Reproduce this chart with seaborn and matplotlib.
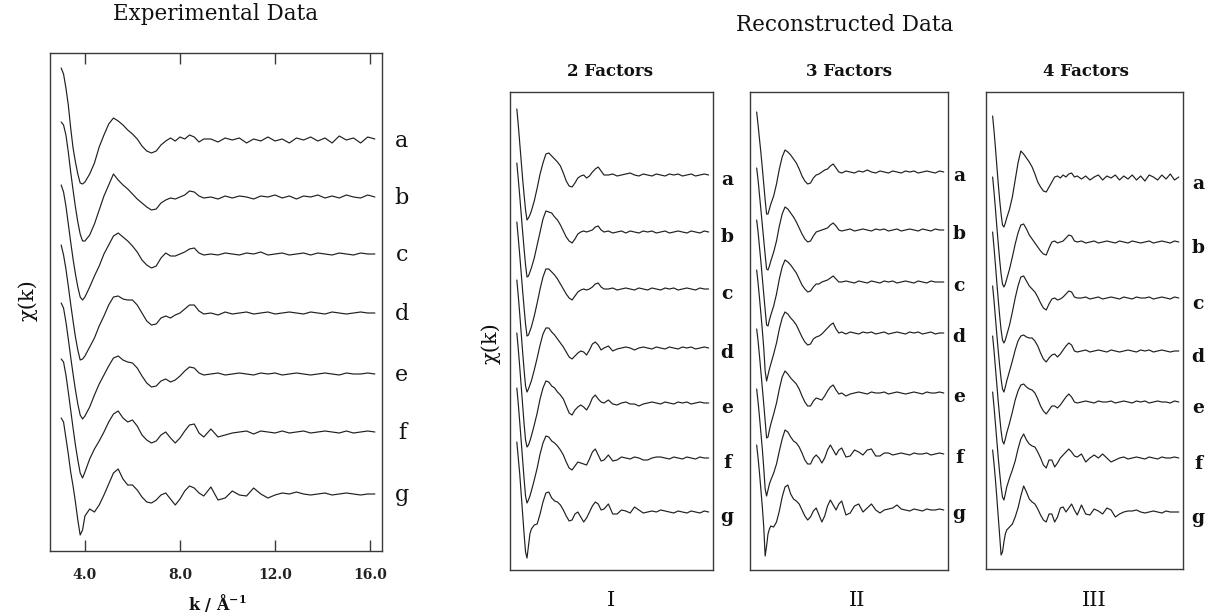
import numpy as np
import pandas as pd
import matplotlib
matplotlib.use("Agg")
import matplotlib.pyplot as plt
import seaborn as sns

# ---------------- data (chi(k), arbitrary units, relative to each trace's baseline) ----------------
k_grid = [3.0, 3.1, 3.2, 3.3, 3.4, 3.5, 3.6, 3.7, 3.8, 3.9, 4.0,
          4.2, 4.4, 4.6, 4.8, 5.0, 5.2, 5.4, 5.6, 5.8, 6.0, 6.2, 6.4, 6.6, 6.8, 7.0,
          7.2, 7.4, 7.6, 7.8, 8.0, 8.2, 8.4, 8.6, 8.8, 9.0,
          9.3, 9.6, 9.9, 10.2, 10.5, 10.8, 11.1, 11.4, 11.7, 12.0, 12.3, 12.6,
          12.9, 13.2, 13.5, 13.8, 14.1, 14.4, 14.7, 15.0, 15.3, 15.6, 15.9, 16.2]

trace_labels = ['a', 'b', 'c', 'd', 'e', 'f', 'g']

# Experimental data
exp_a = [72, 66, 52, 35, 12, -8, -22, -34, -43, -44, -42,
         -34, -23, -7, 5, 16, 22, 19, 15, 10, 6, 1, -6, -11, -13, -11, -5, -1, 2, -1, 3, 1, 5, 3, -2, 1,
         1, -2, 2, 0, 2, -3, 1, -1, 3, -1, 1, -3, 2, 0, 3, -1, 2, -3, 4, 0, 2, -3, 3, 1]
exp_b = [75, 72, 62, 45, 25, 7, -10, -25, -37, -44, -44,
         -38, -27, -13, 1, 12, 23, 17, 12, 8, 3, -2, -6, -10, -13, -12, -6, -3, -1, -2, 0, 2, 6, 5, 1, -1,
         0, -2, 1, -1, 1, 0, -2, 1, 0, 2, -1, 1, -2, 1, 0, 2, -1, 1, -1, 2, 0, -1, 2, 0]
exp_c = [69, 62, 48, 30, 12, -5, -20, -33, -43, -46, -43,
         -33, -22, -12, 0, 9, 18, 21, 17, 13, 8, 2, -6, -11, -14, -12, -4, 1, -2, -2, 0, 2, 5, 6, 1, -1,
         0, -1, 1, 0, -1, 1, 0, 2, -1, 0, 1, -1, 0, 1, -1, 1, 0, -1, 1, 0, -1, 1, 0, 0]
exp_d = [68, 58, 44, 27, 9, -8, -24, -37, -47, -46, -43,
         -34, -25, -13, -3, 8, 16, 17, 14, 13, 13, 8, 0, -8, -12, -11, -5, -3, -5, -2, 0, 4, 8, 8, 2, -1,
         0, -2, 1, -1, 0, 1, -1, 0, 1, -1, 0, 1, 0, -1, 1, 0, -1, 1, 0, -1, 0, 1, 0, 0]
exp_e = [71, 66, 52, 35, 17, 0, -16, -30, -41, -45, -42,
         -33, -21, -10, -1, 8, 16, 18, 14, 12, 11, 6, -2, -9, -13, -12, -7, -5, -8, -6, -2, 3, 7, 6, 1, -1,
         0, 1, -1, 0, 1, 0, -1, 1, 0, 1, -1, 0, 1, 0, -1, 0, 1, 0, -1, 1, 0, 0, 1, 0]
exp_f = [73, 70, 57, 40, 22, 4, -13, -28, -41, -46, -40,
         -27, -17, -9, 0, 10, 18, 21, 14, 10, 12, 6, -3, -8, -11, -9, -3, 0, -6, -11, -6, 1, 7, 8, -1, -5,
         3, -5, -3, -1, 0, 1, -2, 1, 0, -1, 1, -1, 0, 1, -1, 0, 1, 0, -1, 1, -1, 0, 1, 0]
exp_g = [76, 72, 56, 40, 22, 8, -8, -26, -41, -36, -22,
         -15, -18, -11, -1, 10, 21, 25, 15, 9, 9, 4, -3, -8, -9, -6, -1, 1, -5, -11, -5, 3, 8, 6, 1, -2,
         7, -6, -4, 3, -1, -2, 6, 0, -4, -1, 1, 0, 2, 0, -1, 0, 1, -1, 0, 1, 0, -1, 0, 0]

# Reconstructed data, 2 factors
f2_a = [66, 50, 32, 14, -4, -20, -35, -45, -43, -40, -36,
        -26, -13, 1, 12, 21, 22, 19, 16, 13, 9, 2, -6, -11, -12, -8, -3, -1, 0, -3, -1, 3, 6, 8, 4, 0,
        0, 1, -1, 0, 1, 2, 0, -1, 1, 0, -1, 1, 0, -1, 1, 0, 1, -1, 0, 1, -1, 0, 1, 0]
f2_b = [69, 53, 36, 18, 0, -17, -33, -45, -44, -40, -36,
        -26, -13, 0, 13, 21, 20, 19, 15, 12, 7, 1, -5, -9, -11, -7, -2, 0, 1, 0, 1, 2, 5, 6, 2, 0,
        1, -1, 0, 1, -1, 1, 0, -1, 1, 0, 1, -1, 0, 1, -1, 0, 1, 0, -1, 1, 0, -1, 1, 0]
f2_c = [67, 51, 34, 16, -2, -19, -35, -47, -46, -42, -38,
        -27, -14, 0, 12, 20, 20, 17, 14, 10, 5, 0, -5, -9, -11, -7, -3, -1, 0, -1, 0, 2, 5, 6, 2, 0,
        0, 1, -1, 0, 1, 0, -1, 1, 0, -1, 1, 0, -1, 1, 0, 1, -1, 0, 1, 0, -1, 1, 0, 0]
f2_d = [68, 52, 34, 15, -4, -22, -38, -44, -41, -37, -33,
        -22, -10, 3, 14, 20, 20, 16, 13, 9, 5, 1, -4, -9, -11, -8, -5, -3, -4, -7, -2, 4, 6, 3, -2, 0,
        2, -3, -1, 0, 1, 0, -2, 0, 1, 0, -1, 1, 0, -1, 1, 0, -1, 1, 0, 1, -1, 0, 1, 0]
f2_e = [70, 54, 36, 17, -2, -21, -37, -44, -42, -38, -33,
        -22, -10, 4, 15, 22, 21, 17, 15, 11, 8, 4, -3, -10, -12, -7, -4, -2, -4, -7, -2, 5, 8, 4, 1, 0,
        3, -1, -2, 0, 1, -1, -1, -3, -1, 0, 1, 0, -1, 1, 0, -1, 1, 0, 1, -1, 0, 1, 0, 0]
f2_f = [70, 54, 36, 17, -2, -21, -38, -45, -42, -38, -33,
        -22, -10, 4, 15, 22, 21, 17, 15, 12, 8, 3, -4, -10, -12, -8, -4, -5, -6, -7, -1, 6, 9, 3, -3, -2,
        3, -3, -2, 1, 0, -1, 1, 0, -2, -2, 0, 1, 1, 0, -1, 1, 0, -1, 1, 0, -1, 1, 0, 0]
f2_g = [70, 54, 38, 18, -2, -22, -40, -46, -34, -22, -17,
        -13, -12, -2, 10, 19, 20, 14, 11, 10, 7, 2, -4, -9, -8, -2, 0, -5, -10, -6, 0, 6, 10, 8, 2, 3,
        8, -2, -2, 2, 1, -1, 5, 2, -1, 0, 1, 0, 2, 1, 0, -1, 1, 0, -1, 1, 0, -1, 1, 0]

# Reconstructed data, 3 factors
f3_a = [60, 47, 33, 19, 4, -12, -28, -42, -42, -37, -32,
        -24, -12, 3, 15, 22, 20, 17, 13, 9, 3, -4, -9, -12, -11, -6, -3, -2, 0, 2, 3, 6, 8, 4, 0, -1,
        1, 0, -1, 1, 0, 2, 0, -1, 1, 0, -1, 1, 0, -1, 1, 0, 1, -1, 0, 1, 0, -1, 1, 0]
f3_b = [62, 50, 35, 20, 5, -10, -25, -39, -40, -36, -31,
        -22, -11, 4, 16, 23, 21, 17, 13, 8, 2, -4, -9, -12, -11, -6, -2, -1, 0, 1, 2, 5, 7, 4, 0, -1,
        0, 1, -1, 0, 1, 0, -1, 1, 0, 1, -1, 0, 1, -1, 0, 1, 0, -1, 1, 0, -1, 1, 0, 0]
f3_c = [62, 50, 35, 20, 4, -12, -28, -43, -44, -38, -33,
        -24, -12, 3, 15, 22, 20, 17, 13, 9, 3, -3, -7, -10, -9, -5, -2, -2, 0, 1, 2, 4, 6, 3, 0, 0,
        1, 0, -1, 1, 0, -1, 1, 0, -1, 1, 0, 1, -1, 0, 1, 0, -1, 1, 0, -1, 1, 0, 0, 0]
f3_d = [63, 50, 35, 19, 3, -15, -38, -48, -42, -36, -31,
        -21, -10, 4, 15, 21, 19, 15, 12, 8, 2, -4, -9, -12, -11, -6, -4, -3, -1, 2, 5, 8, 10, 4, 0, 1,
        -1, 1, 0, -1, 1, 0, 1, -1, 0, 1, -1, 0, 1, 0, -1, 1, 0, 1, -1, 0, 1, -1, 0, 0]
f3_e = [64, 52, 37, 21, 5, -11, -28, -45, -44, -37, -31,
        -21, -10, 4, 16, 22, 19, 15, 12, 9, 4, -3, -9, -13, -13, -8, -5, -6, -7, -3, 2, 6, 8, 3, -1, 0,
        -3, -1, 0, 1, 0, -1, 1, 0, 0, 1, -1, 0, 1, 0, -1, 0, 1, 0, -1, 1, 0, 0, 1, 0]
f3_f = [65, 52, 37, 21, 5, -14, -35, -42, -36, -30, -26,
        -19, -10, 3, 15, 24, 22, 17, 13, 11, 7, 1, -6, -10, -10, -4, -1, -4, -9, -4, 4, 9, 4, -1, 4, 6,
        -3, -2, 4, 2, -1, 4, 5, -2, -2, 1, 1, -1, 0, 1, 0, -1, 1, 0, 0, 1, -1, 0, 1, 0]
f3_g = [65, 52, 37, 20, 3, -17, -46, -36, -24, -19, -16,
        -17, -12, -1, 13, 23, 25, 16, 11, 9, 6, 0, -6, -10, -7, -1, 2, -5, -12, -6, 4, 10, 5, 0, 6, 9,
        -5, -3, 4, 6, -2, 2, 6, 0, -3, 0, 1, 2, 5, 1, 0, -1, 1, 0, -1, 1, 0, 0, 1, 0]

# Reconstructed data, 4 factors
f4_a = [62, 47, 30, 12, -6, -22, -36, -47, -49, -45, -40,
        -31, -19, -2, 15, 27, 24, 20, 16, 11, 4, -4, -9, -13, -14, -9, -4, 1, 2, 0, 3, 1, 4, 5, 1, 2,
        -1, 2, -2, 1, 3, -2, 2, 0, 3, -2, 2, -1, 3, -2, 2, -3, 3, 1, -2, 3, -1, 4, -2, 1]
f4_b = [65, 50, 33, 15, -2, -18, -32, -42, -45, -42, -37,
        -27, -15, -2, 9, 17, 18, 13, 7, 3, -1, -5, -9, -12, -13, -6, 0, 1, -1, 0, 1, 4, 7, 6, 1, 0,
        1, -1, 0, 1, -1, 0, 1, 0, -1, 1, 0, -1, 1, 0, -1, 0, 1, -1, 0, 1, 0, -1, 1, 0]
f4_c = [66, 50, 33, 15, -2, -18, -32, -42, -45, -42, -37,
        -27, -14, 0, 12, 21, 22, 17, 12, 9, 6, 1, -5, -10, -12, -6, -1, 0, -2, -1, 1, 4, 7, 6, 1, 0,
        0, 1, -1, 0, 1, -1, 0, 1, 0, -1, 1, 0, -1, 1, 0, 0, 1, -1, 0, 1, 0, -1, 1, 0]
f4_d = [65, 50, 33, 16, 0, -15, -28, -38, -41, -36, -30,
        -20, -10, 1, 10, 15, 16, 14, 13, 13, 10, 5, -2, -8, -11, -7, -4, -3, -6, -3, 1, 5, 8, 6, 0, -1,
        0, 1, -1, 0, 1, 0, -1, 1, 0, -1, 0, 1, 0, -1, 1, 0, 1, -1, 0, 1, 0, -1, 0, 0]
f4_e = [66, 51, 34, 17, 0, -15, -29, -39, -42, -37, -31,
        -21, -10, 2, 11, 17, 18, 15, 13, 12, 9, 3, -4, -9, -12, -8, -4, -4, -6, -3, 1, 5, 8, 5, 0, -1,
        0, 1, 0, -1, 1, 0, 0, 1, -1, 0, 1, 0, -1, 1, 0, 1, -1, 0, 1, 0, 0, -1, 1, 0]
f4_f = [66, 51, 34, 17, 0, -15, -29, -39, -42, -36, -29,
        -20, -12, -3, 9, 19, 24, 18, 14, 12, 11, 6, 0, -7, -10, -2, -2, -9, -5, 0, 3, 6, 9, 6, 2, 1,
        4, -4, 0, 3, 0, 4, 0, -4, -2, 0, 1, -1, 0, 1, 0, -1, 1, 0, -1, 1, 0, 0, 1, 0]
f4_g = [62, 48, 32, 14, -5, -24, -43, -40, -30, -22, -18,
        -15, -12, -5, 4, 16, 26, 20, 13, 10, 8, 3, -3, -8, -10, -2, -2, -10, -5, 4, 5, 0, 4, 8, 2, -3,
        7, -2, -3, 3, 1, -2, 4, 2, -5, -2, 0, 1, 1, 2, 0, -1, 0, 1, 0, -1, 1, 0, 0, 0]

# vertical stacking offsets of the traces a..g (same units as the traces)
offsets_exp = [411, 354, 297, 238, 177, 119, 57]
offsets_f2 = [395, 338, 281, 222, 167, 112, 58]
offsets_f3 = [398, 340, 288, 237, 177, 116, 60]
offsets_f4 = [391, 327, 271, 218, 167, 111, 57]

x_ticks = [4.0, 8.0, 12.0, 16.0]
x_tick_labels = ['4.0', '8.0', '12.0', '16.0']
panel_titles = ['2 Factors', '3 Factors', '4 Factors']
panel_numerals = ['I', 'II', 'III']


def panel_frame(curves, offsets):
    rows = []
    for name, vals, off in zip(trace_labels, curves, offsets):
        if len(vals) != len(k_grid):
            raise ValueError(f"trace {name}: {len(vals)} values, expected {len(k_grid)}")
        for k, v in zip(k_grid, vals):
            rows.append((name, k, off + v))
    return pd.DataFrame(rows, columns=['trace', 'k', 'chi'])


df_exp = panel_frame([exp_a, exp_b, exp_c, exp_d, exp_e, exp_f, exp_g], offsets_exp)
df_f2 = panel_frame([f2_a, f2_b, f2_c, f2_d, f2_e, f2_f, f2_g], offsets_f2)
df_f3 = panel_frame([f3_a, f3_b, f3_c, f3_d, f3_e, f3_f, f3_g], offsets_f3)
df_f4 = panel_frame([f4_a, f4_b, f4_c, f4_d, f4_e, f4_f, f4_g], offsets_f4)

# ---------------- styling ----------------
sns.set_style("white")
plt.rcParams['font.family'] = ['DejaVu Serif']
plt.rcParams['mathtext.fontset'] = 'dejavuserif'

W, H = 1206, 616
fig = plt.figure(figsize=(W / 100, H / 100), dpi=100)
fig.patch.set_facecolor('white')


def rect(x0, y0, x1, y1):
    return [x0 / W, 1 - y1 / H, (x1 - x0) / W, (y1 - y0) / H]


def fx(x):
    return x / W


def fy(y):
    return 1 - y / H


line_color = '#1f1f1f'
spine_color = '#3a3a3a'

panels = [
    (rect(50, 53, 382, 551), df_exp, offsets_exp, 498, -1, 1.06, 16, 'normal'),
    (rect(510, 92, 713, 570), df_f2, offsets_f2, 478, -5, 1.069, 13.5, 'bold'),
    (rect(750, 92, 948, 570), df_f3, offsets_f3, 478, -4, 1.056, 13.5, 'bold'),
    (rect(986, 92, 1183, 569), df_f4, offsets_f4, 477, -6, 1.076, 13.5, 'bold'),
]

axes = []
for i, (r, df, offs, ytop, lab_shift, lab_x, lab_size, lab_w) in enumerate(panels):
    ax = fig.add_axes(r)
    sns.lineplot(data=df, x='k', y='chi', units='trace', estimator=None, sort=False,
                 color=line_color, linewidth=0.85, ax=ax, legend=False)
    ax.set_xlim(2.53, 16.5)
    ax.set_ylim(0, ytop)
    ax.set_xlabel('')
    ax.set_ylabel('')
    ax.set_yticks([])
    for s in ax.spines.values():
        s.set_visible(True)
        s.set_color(spine_color)
        s.set_linewidth(1.0)
    ytr = ax.get_yaxis_transform()
    for name, off in zip(trace_labels, offs):
        ax.text(lab_x, off + lab_shift, name, transform=ytr, ha='center', va='center',
                fontsize=lab_size, fontweight=lab_w, color='#111111', clip_on=False)
    axes.append(ax)

# left panel ticks
ax0 = axes[0]
ax0.set_xticks(x_ticks)
ax0.set_xticklabels(x_tick_labels, fontsize=10, fontweight='bold', color='#222222')
ax0.tick_params(axis='x', direction='in', top=True, bottom=True, length=8, width=1.0,
                color=spine_color, pad=12)
for ax in axes[1:]:
    ax.set_xticks([])

# titles and labels
fig.text(fx(216), fy(14), 'Experimental Data', ha='center', va='center', fontsize=15.5, color='#111111')
fig.text(fx(845), fy(25), 'Reconstructed Data', ha='center', va='center', fontsize=15.5, color='#111111')
for title, cx in zip(panel_titles, [610, 849, 1086]):
    fig.text(fx(cx), fy(72), title, ha='center', va='center', fontsize=12, fontweight='bold', color='#111111')
for num, cx in zip(panel_numerals, [611, 857, 1094]):
    fig.text(fx(cx), fy(600), num, ha='center', va='center', fontsize=15, color='#111111')

fig.text(fx(28), fy(300), 'χ(k)', rotation=90, ha='center', va='center', fontsize=15, color='#111111')
fig.text(fx(491), fy(343), 'χ(k)', rotation=90, ha='center', va='center', fontsize=15, color='#111111')
fig.text(fx(217), fy(603), r'k / Å$^{\mathregular{-1}}$', ha='center', va='center', fontsize=11.5,
         fontweight='bold', color='#111111')

fig.savefig('out.png', dpi=100, facecolor='white')
